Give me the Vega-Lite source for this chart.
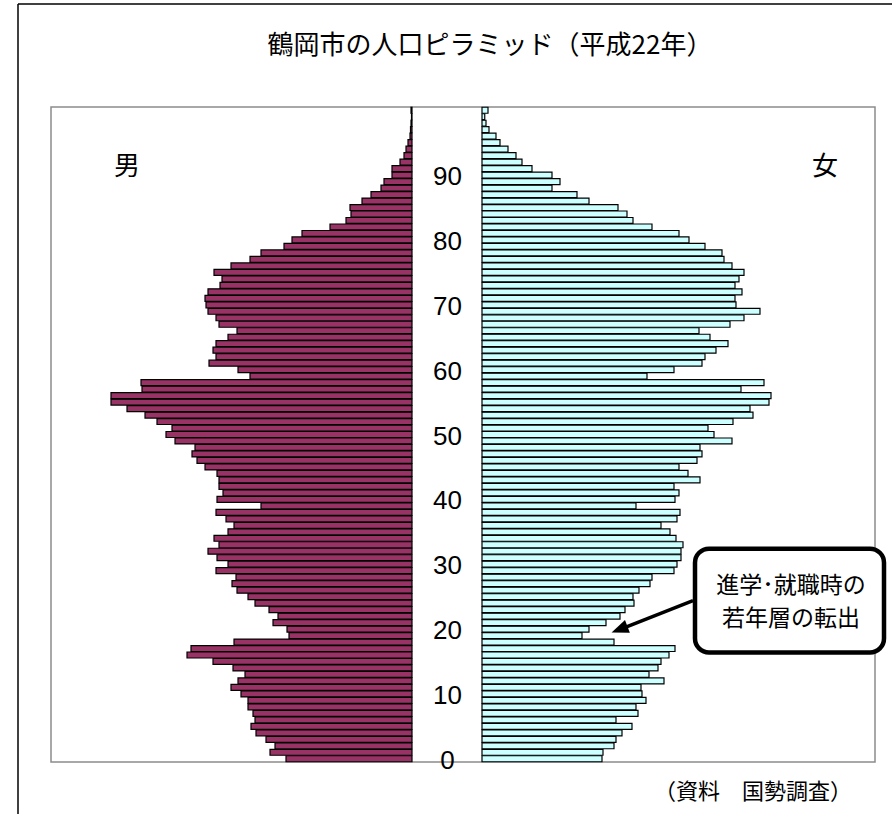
{
  "$schema": "https://vega.github.io/schema/vega-lite/v6.json",
  "width": 824,
  "height": 655,
  "autosize": {"type": "none"},
  "padding": {"left": 51, "top": 107, "right": 17, "bottom": 52},
  "background": "white",
  "config": {"view": {"stroke": "#8c8c8c", "strokeWidth": 1.5}, "font": "Noto Sans CJK JP"},
  "datasets": {
    "pop": [
      {"age": 0, "male": 504, "female": 480},
      {"age": 1, "male": 568, "female": 484},
      {"age": 2, "male": 548, "female": 528},
      {"age": 3, "male": 584, "female": 536},
      {"age": 4, "male": 624, "female": 560},
      {"age": 5, "male": 644, "female": 600},
      {"age": 6, "male": 628, "female": 536},
      {"age": 7, "male": 636, "female": 624},
      {"age": 8, "male": 656, "female": 616},
      {"age": 9, "male": 656, "female": 656},
      {"age": 10, "male": 684, "female": 640},
      {"age": 11, "male": 724, "female": 636},
      {"age": 12, "male": 696, "female": 728},
      {"age": 13, "male": 668, "female": 668},
      {"age": 14, "male": 716, "female": 704},
      {"age": 15, "male": 796, "female": 716},
      {"age": 16, "male": 900, "female": 748},
      {"age": 17, "male": 884, "female": 772},
      {"age": 18, "male": 712, "female": 528},
      {"age": 19, "male": 492, "female": 400},
      {"age": 20, "male": 500, "female": 428},
      {"age": 21, "male": 556, "female": 496},
      {"age": 22, "male": 536, "female": 552},
      {"age": 23, "male": 572, "female": 572},
      {"age": 24, "male": 628, "female": 608},
      {"age": 25, "male": 656, "female": 604},
      {"age": 26, "male": 700, "female": 628},
      {"age": 27, "male": 720, "female": 672},
      {"age": 28, "male": 704, "female": 680},
      {"age": 29, "male": 784, "female": 768},
      {"age": 30, "male": 736, "female": 780},
      {"age": 31, "male": 780, "female": 796},
      {"age": 32, "male": 816, "female": 796},
      {"age": 33, "male": 772, "female": 804},
      {"age": 34, "male": 792, "female": 776},
      {"age": 35, "male": 736, "female": 752},
      {"age": 36, "male": 712, "female": 716},
      {"age": 37, "male": 744, "female": 780},
      {"age": 38, "male": 784, "female": 792},
      {"age": 39, "male": 604, "female": 616},
      {"age": 40, "male": 780, "female": 772},
      {"age": 41, "male": 756, "female": 788},
      {"age": 42, "male": 772, "female": 768},
      {"age": 43, "male": 772, "female": 872},
      {"age": 44, "male": 780, "female": 824},
      {"age": 45, "male": 828, "female": 788},
      {"age": 46, "male": 860, "female": 860},
      {"age": 47, "male": 880, "female": 880},
      {"age": 48, "male": 868, "female": 872},
      {"age": 49, "male": 948, "female": 1000},
      {"age": 50, "male": 984, "female": 928},
      {"age": 51, "male": 960, "female": 904},
      {"age": 52, "male": 1020, "female": 1004},
      {"age": 53, "male": 1068, "female": 1084},
      {"age": 54, "male": 1140, "female": 1072},
      {"age": 55, "male": 1204, "female": 1148},
      {"age": 56, "male": 1204, "female": 1156},
      {"age": 57, "male": 1080, "female": 1036},
      {"age": 58, "male": 1084, "female": 1128},
      {"age": 59, "male": 648, "female": 660},
      {"age": 60, "male": 696, "female": 768},
      {"age": 61, "male": 812, "female": 880},
      {"age": 62, "male": 784, "female": 892},
      {"age": 63, "male": 796, "female": 936},
      {"age": 64, "male": 784, "female": 984},
      {"age": 65, "male": 736, "female": 912},
      {"age": 66, "male": 700, "female": 868},
      {"age": 67, "male": 772, "female": 992},
      {"age": 68, "male": 784, "female": 1048},
      {"age": 69, "male": 816, "female": 1112},
      {"age": 70, "male": 824, "female": 1016},
      {"age": 71, "male": 828, "female": 1012},
      {"age": 72, "male": 816, "female": 1040},
      {"age": 73, "male": 768, "female": 1012},
      {"age": 74, "male": 760, "female": 1028},
      {"age": 75, "male": 792, "female": 1048},
      {"age": 76, "male": 724, "female": 1000},
      {"age": 77, "male": 648, "female": 968},
      {"age": 78, "male": 604, "female": 960},
      {"age": 79, "male": 512, "female": 892},
      {"age": 80, "male": 480, "female": 828},
      {"age": 81, "male": 440, "female": 788},
      {"age": 82, "male": 328, "female": 680},
      {"age": 83, "male": 264, "female": 604},
      {"age": 84, "male": 244, "female": 580},
      {"age": 85, "male": 248, "female": 544},
      {"age": 86, "male": 200, "female": 428},
      {"age": 87, "male": 164, "female": 380},
      {"age": 88, "male": 124, "female": 280},
      {"age": 89, "male": 112, "female": 312},
      {"age": 90, "male": 80, "female": 280},
      {"age": 91, "male": 80, "female": 200},
      {"age": 92, "male": 48, "female": 160},
      {"age": 93, "male": 32, "female": 136},
      {"age": 94, "male": 24, "female": 104},
      {"age": 95, "male": 16, "female": 72},
      {"age": 96, "male": 8, "female": 56},
      {"age": 97, "male": 6, "female": 28},
      {"age": 98, "male": 4, "female": 16},
      {"age": 99, "male": 2, "female": 11},
      {"age": 100, "male": 4, "female": 24}
    ]
  },
  "data": {"name": "pop"},
  "resolve": {"scale": {"x": "independent", "y": "independent"}, "axis": {"x": "independent", "y": "independent"}},
  "layer": [
    {
      "mark": {"type": "bar", "fill": "#993366", "stroke": "#000000", "strokeWidth": 1.2},
      "encoding": {
        "y": {"field": "age", "type": "ordinal", "sort": "descending",
              "scale": {"paddingInner": 0.08, "paddingOuter": 0.04},
              "axis": {"orient": "left", "values": [0, 10, 20, 30, 40, 50, 60, 70, 80, 90], "offset": -396,
                       "ticks": false, "tickSize": 0, "domain": false, "labelAlign": "center", "labelBaseline": "middle",
                       "labelPadding": 0, "labelFontSize": 26, "labelFont": "Liberation Sans", "labelColor": "#000000",
                       "labelOffset": 2, "title": null, "grid": false}},
        "x": {"field": "male", "type": "quantitative", "scale": {"domain": [0, 1444], "range": [361, 0]}, "axis": null}
      }
    },
    {
      "mark": {"type": "bar", "fill": "#CCFFFF", "stroke": "#000000", "strokeWidth": 1.2},
      "encoding": {
        "y": {"field": "age", "type": "ordinal", "sort": "descending",
              "scale": {"paddingInner": 0.08, "paddingOuter": 0.04}, "axis": null},
        "x": {"field": "female", "type": "quantitative", "scale": {"domain": [0, 1572], "range": [431, 824]}, "axis": null}
      }
    },
    {
      "data": {"values": [{}]},
      "mark": {"type": "text", "text": "鶴岡市の人口ピラミッド（平成22年）", "fontSize": 26, "font": "Noto Sans CJK JP", "color": "#000000", "align": "center", "baseline": "middle"},
      "encoding": {
        "x": {"datum": 32, "type": "quantitative", "scale": {"domain": [0, 1572], "range": [431, 824]}, "axis": null},
        "y": {"datum": 109.9, "type": "quantitative", "scale": {"domain": [-0.5, 100.5], "nice": false, "zero": false}, "axis": null}
      }
    },
    {
      "data": {"values": [{}]},
      "mark": {"type": "text", "text": "男", "fontSize": 26, "font": "Noto Sans CJK JP", "color": "#000000", "align": "center", "baseline": "middle"},
      "encoding": {
        "x": {"datum": 1140, "type": "quantitative", "scale": {"domain": [0, 1444], "range": [361, 0]}, "axis": null},
        "y": {"datum": 91.3, "type": "quantitative", "scale": {"domain": [-0.5, 100.5], "nice": false, "zero": false}, "axis": null}
      }
    },
    {
      "data": {"values": [{}]},
      "mark": {"type": "text", "text": "女", "fontSize": 26, "font": "Noto Sans CJK JP", "color": "#000000", "align": "center", "baseline": "middle"},
      "encoding": {
        "x": {"datum": 1372, "type": "quantitative", "scale": {"domain": [0, 1572], "range": [431, 824]}, "axis": null},
        "y": {"datum": 91.3, "type": "quantitative", "scale": {"domain": [-0.5, 100.5], "nice": false, "zero": false}, "axis": null}
      }
    },
    {
      "data": {"values": [{}]},
      "mark": {"type": "rule", "stroke": "#000000", "strokeWidth": 3.5},
      "encoding": {
        "x": {"datum": 844, "type": "quantitative", "scale": {"domain": [0, 1572], "range": [431, 824]}, "axis": null},
        "x2": {"datum": 550},
        "y": {"datum": 24.4, "type": "quantitative", "scale": {"domain": [-0.5, 100.5], "nice": false, "zero": false}, "axis": null},
        "y2": {"datum": 19.93}
      }
    },
    {
      "data": {"values": [{}]},
      "mark": {"type": "point", "shape": "M0,-1L-0.8,1L0.8,1Z", "filled": true, "fill": "#000000", "stroke": null, "opacity": 1, "size": 289, "angle": 249},
      "encoding": {
        "x": {"datum": 550, "type": "quantitative", "scale": {"domain": [0, 1572], "range": [431, 824]}, "axis": null},
        "y": {"datum": 19.93, "type": "quantitative", "scale": {"domain": [-0.5, 100.5], "nice": false, "zero": false}, "axis": null}
      }
    },
    {
      "data": {"values": [{}]},
      "mark": {"type": "rect", "fill": "#ffffff", "stroke": "#000000", "strokeWidth": 4.5, "cornerRadius": 14},
      "encoding": {
        "x": {"datum": 852, "type": "quantitative", "scale": {"domain": [0, 1572], "range": [431, 824]}, "axis": null},
        "x2": {"datum": 1608},
        "y": {"datum": 32.4, "type": "quantitative", "scale": {"domain": [-0.5, 100.5], "nice": false, "zero": false}, "axis": null},
        "y2": {"datum": 16.4}
      }
    },
    {
      "data": {"values": [{}]},
      "mark": {"type": "text", "text": "進学･就職時の", "fontSize": 23, "font": "Noto Sans CJK JP", "color": "#000000", "align": "center", "baseline": "middle"},
      "encoding": {
        "x": {"datum": 1236, "type": "quantitative", "scale": {"domain": [0, 1572], "range": [431, 824]}, "axis": null},
        "y": {"datum": 26.6, "type": "quantitative", "scale": {"domain": [-0.5, 100.5], "nice": false, "zero": false}, "axis": null}
      }
    },
    {
      "data": {"values": [{}]},
      "mark": {"type": "text", "text": "若年層の転出", "fontSize": 23, "font": "Noto Sans CJK JP", "color": "#000000", "align": "center", "baseline": "middle"},
      "encoding": {
        "x": {"datum": 1236, "type": "quantitative", "scale": {"domain": [0, 1572], "range": [431, 824]}, "axis": null},
        "y": {"datum": 21.6, "type": "quantitative", "scale": {"domain": [-0.5, 100.5], "nice": false, "zero": false}, "axis": null}
      }
    },
    {
      "data": {"values": [{}]},
      "mark": {"type": "text", "text": "（資料　国勢調査）", "fontSize": 22, "font": "Noto Sans CJK JP", "color": "#000000", "align": "center", "baseline": "middle"},
      "encoding": {
        "x": {"datum": 1084, "type": "quantitative", "scale": {"domain": [0, 1572], "range": [431, 824]}, "axis": null},
        "y": {"datum": -5.2, "type": "quantitative", "scale": {"domain": [-0.5, 100.5], "nice": false, "zero": false}, "axis": null}
      }
    },
    {
      "data": {"values": [{}]},
      "mark": {"type": "rule", "stroke": "#000000", "strokeWidth": 1.5},
      "encoding": {
        "x": {"datum": 1576, "type": "quantitative", "scale": {"domain": [0, 1444], "range": [361, 0]}, "axis": null},
        "y": {"datum": 116.38, "type": "quantitative", "scale": {"domain": [-0.5, 100.5], "nice": false, "zero": false}, "axis": null},
        "y2": {"datum": -20}
      }
    },
    {
      "data": {"values": [{}]},
      "mark": {"type": "rule", "stroke": "#000000", "strokeWidth": 1.5},
      "encoding": {
        "x": {"datum": 1576, "type": "quantitative", "scale": {"domain": [0, 1444], "range": [361, 0]}, "axis": null},
        "x2": {"datum": -2500},
        "y": {"datum": 116.38, "type": "quantitative", "scale": {"domain": [-0.5, 100.5], "nice": false, "zero": false}, "axis": null}
      }
    }
  ]
}
